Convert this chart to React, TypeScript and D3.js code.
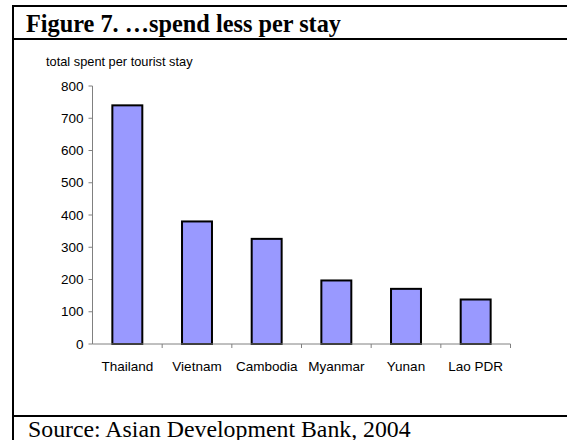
import React from "react";
import * as d3 from "d3";

const categories = ["Thailand", "Vietnam", "Cambodia", "Myanmar", "Yunan", "Lao PDR"];
const values = [740, 380, 326, 197, 171, 138];
const yTicks = [0, 100, 200, 300, 400, 500, 600, 700, 800];
const titleText = "Figure 7. …spend less per stay";
const yTitle = "total spent per tourist stay";
const sourceText = "Source: Asian Development Bank, 2004";

export default function App() {
  const W = 567, H = 440;
  const x0 = 92.5, x1 = 510.5, yTop = 86, yBot = 344;
  const x = d3.scaleBand<string>().domain(categories).range([x0, x1]).paddingInner(0.57).paddingOuter(0.285);
  const y = d3.scaleLinear().domain([0, 800]).range([yBot, yTop]);
  const step = x.step();
  const sans = "'Liberation Sans', Arial, sans-serif";
  const serif = "'Liberation Serif', 'Times New Roman', serif";
  return (
    <svg width={W} height={H} style={{ position: "absolute", left: 0, top: 0, background: "#fff" }}>
      <rect x={0} y={0} width={W} height={H} fill="#fff" />
      {/* frame */}
      <line x1={13} x2={13} y1={5} y2={H} stroke="#000" strokeWidth={2} />
      <line x1={12} x2={W} y1={6} y2={6} stroke="#000" strokeWidth={2} />
      <line x1={12} x2={W} y1={39} y2={39} stroke="#000" strokeWidth={2} />
      <line x1={12} x2={W} y1={416} y2={416} stroke="#000" strokeWidth={2} />
      <text x={26} y={32} fontFamily={serif} fontWeight="bold" fontSize={24.3}>{titleText}</text>
      <text x={28} y={437} fontFamily={serif} fontSize={23.8}>{sourceText}</text>
      <text x={46} y={66} fontFamily={sans} fontSize={12.8}>{yTitle}</text>
      {/* bars */}
      {categories.map((c, i) => (
        <rect key={c} x={x(c)!} y={y(values[i])} width={x.bandwidth()} height={yBot - y(values[i])}
          fill="#9999ff" stroke="#000" strokeWidth={2} />
      ))}
      {/* y axis */}
      <line x1={x0} x2={x0} y1={yTop} y2={yBot} stroke="#808080" strokeWidth={1} />
      {yTicks.map(t => (
        <g key={t}>
          <line x1={x0 - 4} x2={x0} y1={y(t)} y2={y(t)} stroke="#808080" />
          <text x={x0 - 9} y={y(t)} dy="0.35em" textAnchor="end" fontFamily={sans} fontSize={13.5}>{t}</text>
        </g>
      ))}
      {/* x axis */}
      <line x1={x0} x2={x1} y1={yBot} y2={yBot} stroke="#808080" strokeWidth={1} />
      {categories.map((c, i) => (
        <g key={c}>
          <line x1={x0 + step * (i + 1)} x2={x0 + step * (i + 1)} y1={yBot} y2={yBot + 4} stroke="#808080" />
          <text x={x(c)! + x.bandwidth() / 2} y={yBot + 27} textAnchor="middle" fontFamily={sans} fontSize={13.5}>{c}</text>
        </g>
      ))}
    </svg>
  );
}
